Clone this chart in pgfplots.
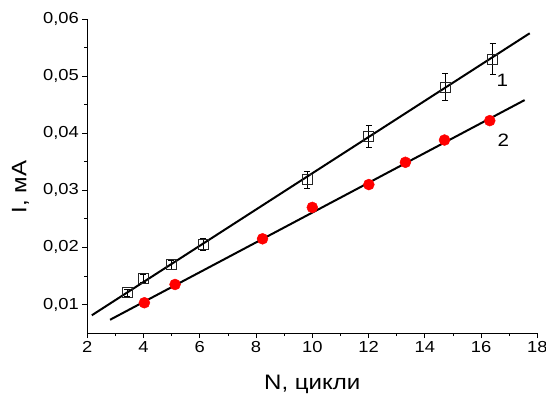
\documentclass[border=0pt]{standalone}
\usepackage{pgfplots}
\pgfplotsset{compat=1.18}
\usepackage{fontspec}
\setmainfont{Liberation Sans}[FakeStretch=1.15]
\begin{document}
\begin{tikzpicture}
\begin{axis}[
 name=ax,
 scale only axis,
 width=450bp, height=314bp,
 xmin=2, xmax=18, ymin=0.005, ymax=0.06,
 axis x line*=bottom, axis y line*=left,
 xtick={2,4,...,18}, ytick={0.01,0.02,0.03,0.04,0.05,0.06},
 minor x tick num=1, minor y tick num=1,
 tick align=outside,
 major tick length=5bp, minor tick length=3bp,
 tick style={black, line width=0.8bp},
 axis line style={black, line width=0.9bp},
 scaled y ticks=false,
 yticklabel style={/pgf/number format/.cd, use comma, fixed, fixed zerofill, precision=2},
 /pgf/number format/assume math mode=true,
 ticklabel style={font=\fontsize{16}{18}\selectfont},
 xlabel={N, цикли}, ylabel={I, мА},
 label style={font=\fontsize{21}{24}\selectfont},
 xlabel style={at={(axis description cs:0.5,-0.1815)}, anchor=base},
 ylabel style={at={(axis description cs:-0.1484,0.465)}, anchor=center},
 clip=false,
]
\addplot[only marks, mark=square, mark size=5bp, mark options={draw=black!85, line width=0.7bp},
 error bars/.cd, y dir=both, y explicit,
 error bar style={black, line width=0.7bp},
 error mark options={rotate=90, mark size=3bp, black, line width=0.7bp}]
 coordinates {
 (3.41,0.0121) +- (0,0.0006)
 (3.98,0.01455) +- (0,0.0007)
 (4.98,0.0170) +- (0,0.0008)
 (6.12,0.0205) +- (0,0.0010)
 (9.82,0.0319) +- (0,0.0015)
 (12.01,0.0394) +- (0,0.0019)
 (14.73,0.0481) +- (0,0.0024)
 (16.41,0.0530) +- (0,0.0027)
 };
\addplot[only marks, mark=*, mark size=5.5bp, color=red, mark options={draw=red, fill=red}]
 coordinates {
 (4.03,0.0103) (5.12,0.0135) (8.23,0.0215) (10.0,0.0270)
 (12.01,0.0310) (13.31,0.0349) (14.70,0.0388) (16.31,0.0422)
 };
\addplot[black, line width=2bp, no marks] coordinates {(2.16,0.0081) (17.73,0.0575)};
\addplot[black, line width=2bp, no marks] coordinates {(2.81,0.00732) (17.55,0.0458)};
\node[font=\fontsize{18}{20}\selectfont] at (axis cs:16.76,0.0493) {1};
\node[font=\fontsize{18}{20}\selectfont] at (axis cs:16.79,0.0388) {2};
\end{axis}
\pgfresetboundingbox
\path[use as bounding box] ([xshift=-87.3bp,yshift=-65bp]ax.south west) rectangle ([xshift=8.7bp,yshift=19bp]ax.north east);
\end{tikzpicture}
\end{document}
